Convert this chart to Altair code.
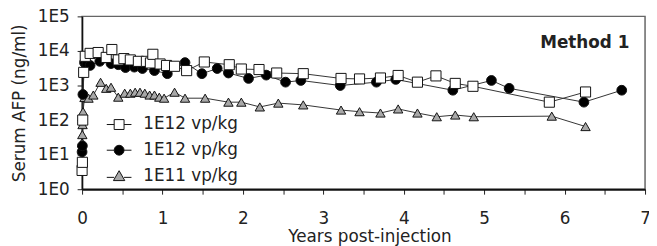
import altair as alt
import pandas as pd

# ---- data ----
years_sq = [0.0, 0.004, 0.008, 0.02, 0.04, 0.1, 0.2, 0.3, 0.37, 0.45, 0.52, 0.6, 0.7, 0.8, 0.85, 0.88,
            0.97, 1.05, 1.15, 1.3, 1.52, 1.83, 1.98, 2.2, 2.42, 2.75, 3.22, 3.45, 3.71, 3.93, 4.17,
            4.4, 4.64, 4.86, 5.81, 6.26]
afp_sq = [3.5, 6, 100, 2400, 7000, 8500, 9000, 6500, 11000, 5500, 6000, 5500, 5000, 5000, 4500, 8000,
          4200, 3800, 3600, 2700, 4800, 4000, 3000, 2900, 2300, 2200, 1600, 1550, 1650, 1950, 1250,
          1900, 1150, 950, 330, 650]

years_ci = [0.0, 0.004, 0.01, 0.03, 0.06, 0.1, 0.22, 0.36, 0.45, 0.54, 0.65, 0.75, 0.9, 1.06, 1.28,
            1.49, 1.68, 1.82, 2.07, 2.29, 2.53, 2.72, 3.21, 3.66, 3.9, 4.61, 5.09, 5.31, 6.24, 6.71]
afp_ci = [12, 18, 550, 4600, 4200, 3800, 5000, 4300, 4000, 3300, 3400, 3100, 2700, 2200, 4600,
          2200, 3100, 2300, 1600, 2000, 1250, 1400, 1000, 1250, 1500, 730, 1400, 830, 330, 730]

years_tr = [0.0, 0.003, 0.006, 0.012, 0.03, 0.08, 0.14, 0.23, 0.3, 0.36, 0.45, 0.53, 0.6, 0.66, 0.72,
            0.78, 0.84, 0.9, 0.96, 1.02, 1.15, 1.28, 1.53, 1.82, 1.98, 2.21, 2.44, 2.75, 3.22, 3.45,
            3.71, 3.93, 4.17, 4.41, 4.64, 4.87, 5.84, 6.26]
afp_tr = [22, 38, 74, 175, 450, 430, 530, 1240, 830, 890, 460, 600, 600, 640, 640,
          600, 530, 530, 460, 430, 640, 430, 430, 330, 330, 240, 310, 275, 195, 175,
          160, 210, 160, 125, 140, 125, 130, 65]

series_keys = ["A", "B", "C"]
series_names = ["1E12 vp/kg", "1E12 vp/kg", "1E11 vp/kg"]
x_ticks = [0, 0.5, 1, 1.5, 2, 2.5, 3, 3.5, 4, 4.5, 5, 5.5, 6, 6.5, 7]
y_ticks = [1, 10, 100, 1000, 10000, 100000]

rows = []
for key, xs, ys in [("C", years_tr, afp_tr), ("B", years_ci, afp_ci), ("A", years_sq, afp_sq)]:
    for i, (x, y) in enumerate(zip(xs, ys)):
        rows.append({"series": key, "leg": key, "year": x, "afp": y, "order": i})
df = pd.DataFrame(rows)

FONT = "DejaVu Sans"

x_enc = alt.X("year:Q", scale=alt.Scale(domain=[0, 7], nice=False),
              axis=alt.Axis(values=x_ticks, title="Years post-injection",
                            labelExpr="datum.value % 1 == 0 ? format(datum.value, 'd') : ''",
                            labelFlush=False, labelOverlap=False,
                            tickSize=5, labelPadding=17, titlePadding=2, titleX=291,
                            domainWidth=2, domainColor="#111"))
y_enc = alt.Y("afp:Q", scale=alt.Scale(type="log", domain=[1, 100000], nice=False),
              axis=alt.Axis(values=y_ticks, title="Serum AFP (ng/ml)",
                            labelExpr="'1E' + round(log(datum.value) / LN10)",
                            labelFlush=False,
                            tickSize=5, labelPadding=8, titlePadding=9,
                            domainWidth=1.5, domainColor="#111"))

base = alt.Chart(df)

lines = base.mark_line(color="#333", strokeWidth=1).encode(
    x=x_enc, y=y_enc, detail="series:N", order="order:Q")

points = base.mark_point(filled=True, stroke="#111", strokeWidth=1, opacity=1).encode(
    x="year:Q", y="afp:Q",
    shape=alt.Shape("series:N", scale=alt.Scale(domain=series_keys,
                                                 range=["square", "circle", "triangle-up"]),
                    legend=None),
    fill=alt.Fill("series:N", scale=alt.Scale(domain=series_keys,
                                               range=["white", "black", "#a8a8a8"]),
                  legend=None),
    size=alt.Size("series:N", scale=alt.Scale(domain=series_keys, range=[105, 90, 85]),
                  legend=None),
)

leg_paths = [
    "M-2.5,0H-1M1,0H2.5M-1,-1H1V1H-1Z",
    "M-2.5,0H-1M1,0H2.5M-1,0A1,1,0,1,0,1,0A1,1,0,1,0,-1,0Z",
    "M-2.5,0.3H-1M1,0.3H2.5M0,-1.05L1.15,0.95H-1.15Z",
]
legend_spec = alt.Legend(title=None, orient="none", legendX=29, legendY=101,
                         labelExpr="datum.value == 'C' ? '1E11 vp/kg' : '1E12 vp/kg'",
                         labelFont=FONT, labelFontSize=17, labelColor="#222",
                         labelOffset=16, rowPadding=8, symbolSize=100,
                         symbolStrokeWidth=1, padding=0)
legend_layer = base.transform_filter("false").mark_point(
    filled=True, strokeWidth=1, opacity=1).encode(
    x="year:Q", y="afp:Q",
    shape=alt.Shape("leg:N", scale=alt.Scale(domain=series_keys, range=leg_paths),
                    legend=legend_spec),
    fill=alt.Fill("leg:N", scale=alt.Scale(domain=series_keys,
                                            range=["white", "black", "#a8a8a8"]),
                  legend=legend_spec),
    stroke=alt.Stroke("leg:N", scale=alt.Scale(domain=series_keys,
                                                range=["#111", "#111", "#111"]),
                      legend=legend_spec),
)

method = alt.Chart(pd.DataFrame({"t": ["Method 1"]})).mark_text(
    font=FONT, fontSize=17, fontWeight="bold", color="#222", align="center", baseline="alphabetic"
).encode(text="t:N", x=alt.value(509), y=alt.value(32))

chart = alt.layer(lines, points, legend_layer, method).resolve_scale(
    shape="independent", fill="independent", stroke="independent"
).properties(
    width=570, height=175,
    padding={"left": 75, "top": 7, "right": 4, "bottom": 56},
    autosize="none",
).configure_view(stroke="#666", strokeWidth=1.5).configure_axis(
    labelFont=FONT, labelFontSize=17, labelColor="#222",
    titleFont=FONT, titleFontSize=17, titleFontWeight="normal", titleColor="#222",
    grid=False, tickColor="#222", tickWidth=1,
)

chart.save("out.html", embed_options={"renderer": "svg", "actions": False})
